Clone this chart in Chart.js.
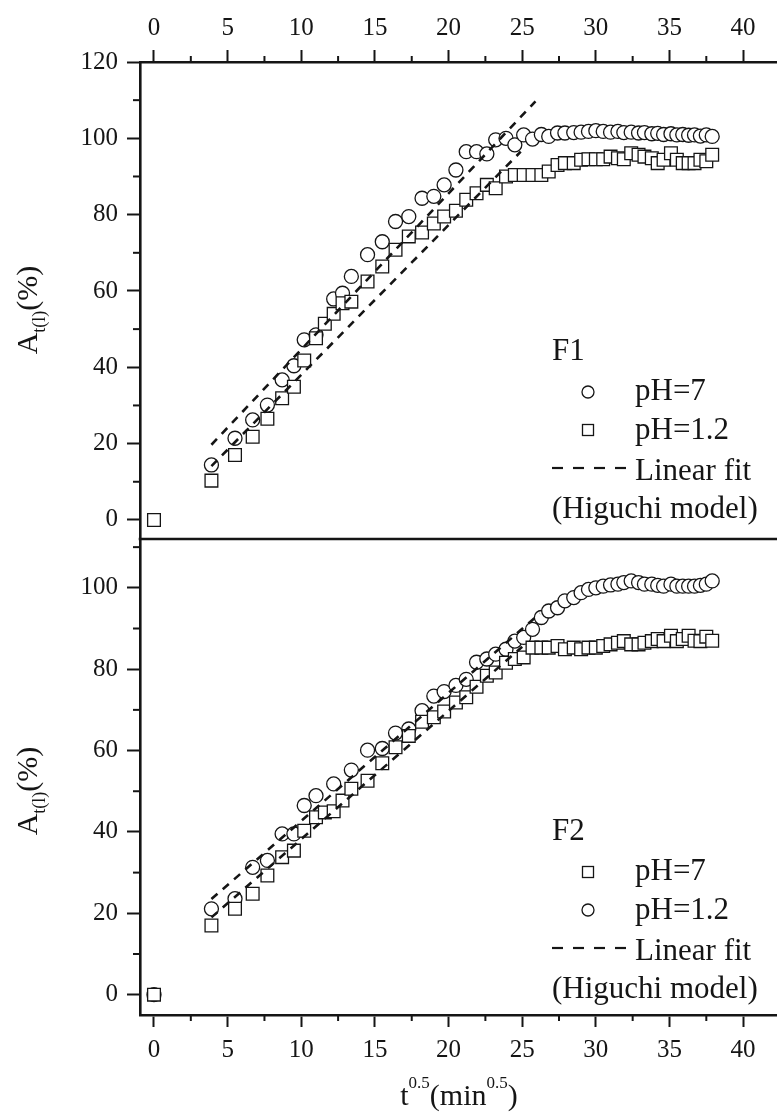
<!DOCTYPE html>
<html>
<head>
<meta charset="utf-8">
<script src="https://cdn.jsdelivr.net/npm/chart.js@4.4.1/dist/chart.umd.min.js"></script>
<style>
  html, body { margin: 0; padding: 0; background: #fff; }
  #wrap { position: relative; width: 777px; height: 1120px; overflow: hidden; }
  #botBox { position: absolute; left: 0; top: 539px; }
  #topBox { position: absolute; left: 0; top: 0; }
</style>
</head>
<body>
<div id="wrap">
  <div id="botBox"><canvas id="f2" width="777" height="581"></canvas></div>
  <div id="topBox"><canvas id="f1" width="777" height="541"></canvas></div>
</div>
<script>
// square root of release time, min^0.5
const sqrtTime = [0, 3.9, 5.5, 6.7, 7.7, 8.7, 9.5, 10.2, 11.0, 11.6, 12.2, 12.8, 13.4, 14.5, 15.5, 16.4, 17.3, 18.2, 19.0, 19.7, 20.5, 21.2, 21.9, 22.6, 23.2, 23.9, 24.5, 25.1, 25.7, 26.3, 26.8, 27.4, 27.9, 28.5, 29.0, 29.5, 30.0, 30.5, 31.0, 31.5, 31.9, 32.4, 32.9, 33.3, 33.8, 34.2, 34.6, 35.1, 35.5, 35.9, 36.3, 36.7, 37.1, 37.5, 37.9];

// F1 panel
const f1pH7 = [null, 14.4, 21.4, 26.2, 30.1, 36.7, 40.4, 47.2, 48.5, null, 57.9, 59.4, 63.8, 69.5, 72.9, 78.2, 79.5, 84.3, 84.8, 87.8, 91.7, 96.5, 96.5, 95.9, 99.6, 100.0, 98.3, 100.9, 99.8, 101.0, 100.5, 101.4, 101.4, 101.5, 101.6, 101.8, 102.0, 101.8, 101.6, 101.8, 101.5, 101.6, 101.4, 101.5, 101.2, 101.3, 101.0, 101.2, 100.9, 101.0, 100.8, 100.9, 100.6, 100.9, 100.5];
const f1pH12 = [0, 10.3, 17.0, 21.8, 26.5, 31.9, 34.9, 41.8, 47.6, 51.4, 54.0, 56.8, 57.2, 62.5, 66.4, 70.8, 74.3, 75.3, 77.7, 79.5, 81.0, 83.9, 85.6, 87.8, 86.9, 90.0, 90.4, 90.4, 90.4, 90.4, 91.3, 93.0, 93.5, 93.5, 94.4, 94.5, 94.5, 94.5, 95.2, 94.8, 94.5, 96.1, 95.7, 95.2, 94.8, 93.5, 94.4, 96.1, 94.4, 93.5, 93.5, 93.5, 94.4, 94.0, 95.7];
const f1FitUpper = [[3.9, 19.7], [25.9, 109.7]];
const f1FitLower = [[3.9, 14.1], [24.9, 96.5]];

// F2 panel
const f2pH7 = [0, 17.0, 21.1, 24.8, 29.3, 33.8, 35.4, 40.3, 43.6, 44.8, 45.1, 47.7, 50.6, 52.6, 56.9, 60.8, 63.6, 67.1, 68.2, 69.6, 71.8, 73.1, 75.7, 78.4, 79.2, 81.6, 82.5, 82.9, 85.3, 85.3, 85.3, 85.7, 84.9, 85.3, 84.9, 85.3, 85.3, 85.7, 86.1, 86.5, 86.9, 86.1, 86.1, 86.5, 86.9, 87.4, 86.9, 88.2, 86.9, 87.4, 88.2, 87.0, 86.9, 88.0, 87.0];
const f2pH12 = [0, 21.1, 23.6, 31.3, 33.0, 39.5, 39.5, 46.5, 48.9, null, 51.8, null, 55.2, 60.1, 60.5, 64.3, 65.3, 69.8, 73.4, 74.5, 76.0, 77.5, 81.7, 82.5, 83.7, 84.9, 86.9, 87.8, 89.8, 92.7, 94.3, 95.1, 96.8, 97.6, 98.8, 99.6, 100.0, 100.4, 100.7, 100.9, 101.3, 101.7, 101.3, 100.9, 100.9, 100.6, 100.4, 100.9, 100.4, 100.4, 100.4, 100.4, 100.6, 100.9, 101.7];
const f2FitUpper = [[3.9, 23.5], [26.2, 93.7]];
const f2FitLower = [[3.9, 19.0], [25.0, 85.5]];

// ticks
const xMajor = [0, 5, 10, 15, 20, 25, 30, 35, 40];
const xMinor = [2.5, 7.5, 12.5, 17.5, 22.5, 27.5, 32.5, 37.5];
const yMajorTop = [0, 20, 40, 60, 80, 100, 120];
const yMajorBottom = [0, 20, 40, 60, 80, 100];
const yMinor = [10, 30, 50, 70, 90, 110];

const INK = '#151515';
const SERIF = '"Liberation Serif", "Times New Roman", serif';
Chart.defaults.font.family = SERIF;
Chart.defaults.color = INK;

function toPoints(xs, ys) {
    return xs.map((x, i) => ({ x, y: ys[i] })).filter(p => p.y !== null);
}

function markers(label, ys, style, order) {
    return {
        label,
        data: toPoints(sqrtTime, ys),
        pointStyle: style,
        pointRadius: style === 'rect' ? 9 : 7,
        pointBorderWidth: 1.3,
        pointBorderColor: INK,
        pointBackgroundColor: '#fff',
        showLine: false,
        order
    };
}

function fitLine(pts) {
    return {
        label: 'Linear fit',
        data: pts.map(p => ({ x: p[0], y: p[1] })),
        showLine: true,
        pointRadius: 0,
        borderColor: INK,
        borderWidth: 2.6,
        borderDash: [8, 7],
        order: 0
    };
}

function drawRich(ctx, parts, x, y) {
    let total = 0;
    parts.forEach(p => {
        ctx.font = `${p.size}px ${SERIF}`;
        p.w = ctx.measureText(p.text).width;
        total += p.w;
    });
    let cx = x - total / 2;
    ctx.textAlign = 'left';
    ctx.textBaseline = 'alphabetic';
    parts.forEach(p => {
        ctx.font = `${p.size}px ${SERIF}`;
        ctx.fillText(p.text, cx, y + (p.dy || 0));
        cx += p.w;
    });
}

function legendCircle(ctx, x, y) {
    ctx.beginPath();
    ctx.arc(x, y, 6, 0, Math.PI * 2);
    ctx.stroke();
}

function legendSquare(ctx, x, y) {
    ctx.strokeRect(x - 5.5, y - 5.5, 11, 11);
}

// legend block: rows measured from the F-label baseline
function drawLegend(ctx, name, top, firstIsCircle) {
    ctx.save();
    ctx.fillStyle = INK;
    ctx.strokeStyle = INK;
    ctx.textAlign = 'left';
    ctx.textBaseline = 'alphabetic';
    ctx.font = `31px ${SERIF}`;
    ctx.fillText(name, 552, top);
    ctx.lineWidth = 1.3;
    if (firstIsCircle) {
        legendCircle(ctx, 588, top + 32);
        legendSquare(ctx, 588, top + 70);
    } else {
        legendSquare(ctx, 588, top + 32);
        legendCircle(ctx, 588, top + 70);
    }
    ctx.fillText('pH=7', 635, top + 40);
    ctx.fillText('pH=1.2', 635, top + 79);
    ctx.lineWidth = 2.2;
    for (let i = 0; i < 4; i++) {
        ctx.beginPath();
        ctx.moveTo(552 + i * 21, top + 108);
        ctx.lineTo(563 + i * 21, top + 108);
        ctx.stroke();
    }
    ctx.fillText('Linear fit', 635, top + 120);
    ctx.fillText('(Higuchi model)', 552, top + 158);
    ctx.restore();
}

function yTitle(ctx, cy) {
    ctx.save();
    ctx.fillStyle = INK;
    ctx.translate(37, cy);
    ctx.rotate(-Math.PI / 2);
    drawRich(ctx, [
        { text: 'A', size: 30 },
        { text: 't(l)', size: 18, dy: 8 },
        { text: '(%)', size: 30 }
    ], 0, 0);
    ctx.restore();
}

function minorTicks(chart, xEdge) {
    const { ctx, chartArea } = chart;
    const xs = chart.scales.x, ys = chart.scales.y;
    ctx.save();
    ctx.strokeStyle = INK;
    ctx.lineWidth = 2;
    xMinor.forEach(v => {
        const px = xs.getPixelForValue(v);
        const y0 = xEdge === 'top' ? chartArea.top : chartArea.bottom;
        const y1 = xEdge === 'top' ? y0 - 6 : y0 + 6;
        ctx.beginPath(); ctx.moveTo(px, y0); ctx.lineTo(px, y1); ctx.stroke();
    });
    yMinor.forEach(v => {
        const py = ys.getPixelForValue(v);
        if (py < chartArea.top - 1 || py > chartArea.bottom + 1) return;
        ctx.beginPath(); ctx.moveTo(chartArea.left, py); ctx.lineTo(chartArea.left - 7, py); ctx.stroke();
    });
    ctx.restore();
}

// no label overhang padding, so the plot box sits exactly where the reference has it
function noPad(s) {
    s.paddingLeft = 0;
    s.paddingRight = 0;
    s.paddingTop = 0;
    s.paddingBottom = 0;
}

function scales(xPos, yMax, yTicks, xPad) {
    return {
        x: {
            type: 'linear',
            position: xPos,
            min: -0.95,
            max: 42.3,
            afterBuildTicks: s => { s.ticks = xMajor.map(v => ({ value: v })); },
            afterFit: s => { s.height = xPos === 'top' ? 62 : 105; noPad(s); },
            grid: { drawOnChartArea: false, drawTicks: true, tickLength: 12, tickWidth: 2, tickColor: INK },
            border: { display: true, color: INK, width: 2.6 },
            ticks: { font: { size: 25 }, color: INK, padding: xPad, maxRotation: 0 }
        },
        y: {
            type: 'linear',
            min: -5,
            max: yMax,
            afterBuildTicks: s => { s.ticks = yTicks.map(v => ({ value: v })); },
            afterFit: s => { s.width = 140; noPad(s); },
            grid: { drawOnChartArea: false, drawTicks: true, tickLength: 13, tickWidth: 2, tickColor: INK },
            border: { display: true, color: INK, width: 2.6 },
            ticks: { font: { size: 25 }, color: INK, padding: 9 }
        }
    };
}

const common = {
    responsive: false,
    animation: false,
    plugins: { legend: { display: false }, tooltip: { enabled: false } }
};

new Chart(document.getElementById('f1'), {
    type: 'scatter',
    data: {
        datasets: [
            fitLine(f1FitUpper),
            fitLine(f1FitLower),
            markers('pH=1.2', f1pH12, 'rect', 1),
            markers('pH=7', f1pH7, 'circle', 2)
        ]
    },
    options: {
        ...common,
        layout: { autoPadding: false, padding: { top: 0, right: 0, bottom: 2, left: 0 } },
        scales: scales('top', 120, yMajorTop, 7)
    },
    plugins: [{
        id: 'f1Decor',
        afterDraw(chart) {
            const { ctx, chartArea } = chart;
            minorTicks(chart, 'top');
            ctx.save();
            ctx.strokeStyle = INK;
            ctx.lineWidth = 2.6;
            ctx.beginPath();
            ctx.moveTo(chartArea.left - 1.3, chartArea.bottom);
            ctx.lineTo(chart.width, chartArea.bottom);
            ctx.stroke();
            ctx.restore();
            yTitle(ctx, 310);
            drawLegend(ctx, 'F1', 360, true);
        }
    }]
});

new Chart(document.getElementById('f2'), {
    type: 'scatter',
    data: {
        datasets: [
            fitLine(f2FitUpper),
            fitLine(f2FitLower),
            markers('pH=7', f2pH7, 'rect', 1),
            markers('pH=1.2', f2pH12, 'circle', 2)
        ]
    },
    options: {
        ...common,
        layout: { autoPadding: false, padding: 0 },
        scales: scales('bottom', 112, yMajorBottom, 8)
    },
    plugins: [{
        id: 'f2Decor',
        afterDraw(chart) {
            const { ctx } = chart;
            minorTicks(chart, 'bottom');
            yTitle(ctx, 252);
            drawLegend(ctx, 'F2', 301, false);
            ctx.save();
            ctx.fillStyle = INK;
            drawRich(ctx, [
                { text: 't', size: 30 },
                { text: '0.5', size: 17, dy: -17 },
                { text: '(min', size: 30 },
                { text: '0.5', size: 17, dy: -17 },
                { text: ')', size: 30 }
            ], 459, 566);
            ctx.restore();
        }
    }]
});
</script>
</body>
</html>
